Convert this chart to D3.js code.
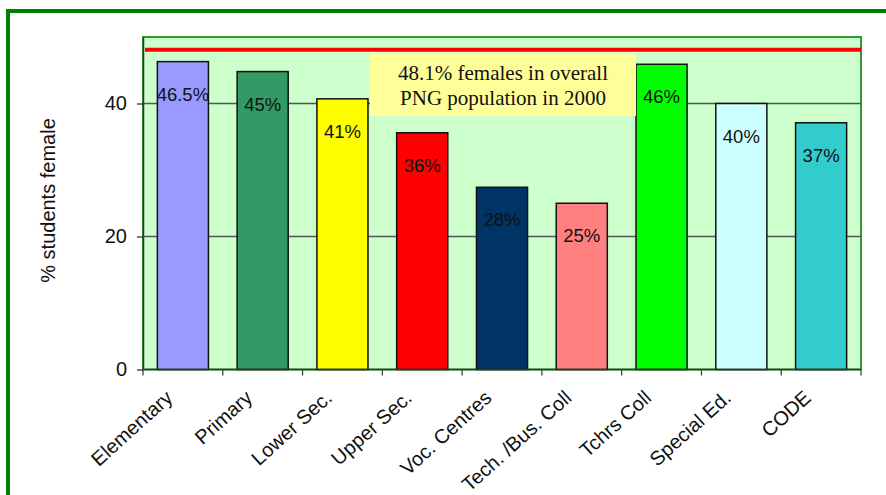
<!DOCTYPE html>
<html><head><meta charset="utf-8">
<script src="https://cdnjs.cloudflare.com/ajax/libs/d3/7.8.5/d3.min.js"></script>
<style>body{margin:0;background:#fff;}svg{display:block;}</style>
</head><body>
<svg id="c" width="886" height="495"></svg>
<script>
const categories = ["Elementary","Primary","Lower Sec.","Upper Sec.","Voc. Centres","Tech. /Bus. Coll","Tchrs Coll","Special Ed.","CODE"];
const values = [46.3, 44.8, 40.7, 35.6, 27.4, 25.0, 45.9, 40.0, 37.1];
const valueLabels = ["46.5%","45%","41%","36%","28%","25%","46%","40%","37%"];
const barColors = ["#9999FF","#339966","#FFFF00","#FF0000","#003366","#FF8080","#00FF00","#CCFFFF","#33CCCC"];
const yTicks = [0, 20, 40];
const referenceValue = 48.1;
const noteLines = ["48.1% females in overall","PNG population in 2000"];
const yTitle = "% students female";

const svg = d3.select("#c");
const L = 143, R = 861, T = 37, B = 369.5;

// outer border
svg.append("rect").attr("x",8).attr("y",11).attr("width",900).attr("height",500)
  .attr("fill","none").attr("stroke","#008000").attr("stroke-width",4);

const x = d3.scaleBand().domain(categories).range([L,R]).paddingInner(0.36).paddingOuter(0.18);
const y = d3.scaleLinear().domain([0,50]).range([B,T]);

// plot background
svg.append("rect").attr("x",L).attr("y",T).attr("width",R-L).attr("height",B-T)
  .attr("fill","#CCFFCC").attr("stroke","#339933").attr("stroke-width",2);

// gridlines
svg.append("g").selectAll("line").data(yTicks.filter(d=>d>0)).join("line")
  .attr("x1",L).attr("x2",R).attr("y1",d=>y(d)).attr("y2",d=>y(d))
  .attr("stroke","#555").attr("stroke-width",1.3);

// reference line
svg.append("line").attr("x1",L+2).attr("x2",R).attr("y1",y(referenceValue)).attr("y2",y(referenceValue))
  .attr("stroke","#FF0000").attr("stroke-width",4);

// bars
svg.append("g").selectAll("rect").data(values).join("rect")
  .attr("x",(d,i)=>x(categories[i])).attr("width",x.bandwidth())
  .attr("y",d=>y(d)).attr("height",d=>B-y(d))
  .attr("fill",(d,i)=>barColors[i]).attr("stroke","#111").attr("stroke-width",1.5);

// value labels
svg.append("g").selectAll("text").data(values).join("text")
  .attr("x",(d,i)=>x(categories[i])+x.bandwidth()/2)
  .attr("y",d=>y(d)+39)
  .attr("text-anchor","middle")
  .attr("font-family","Liberation Sans, Arial, sans-serif").attr("font-size",18.5)
  .attr("fill","#111")
  .text((d,i)=>valueLabels[i]);

// note box
const noteG = svg.append("g");
noteG.append("rect").attr("x",370).attr("y",53).attr("width",266).attr("height",63).attr("fill","#FFFF99");
noteG.selectAll("text").data(noteLines).join("text")
  .attr("x",503).attr("y",(d,i)=>80+i*25)
  .attr("text-anchor","middle")
  .attr("font-family","Liberation Serif, Times New Roman, serif").attr("font-size",21)
  .attr("fill","#111").text(d=>d);

// y axis
const yAxis = d3.axisLeft(y).tickValues(yTicks).tickSize(6).tickPadding(10).tickSizeOuter(0);
const gy = svg.append("g").attr("transform",`translate(${L},0)`).call(yAxis);
gy.select(".domain").attr("stroke","#333").attr("stroke-width",1.5);
gy.selectAll(".tick line").attr("stroke","#333").attr("stroke-width",1.3);
gy.selectAll(".tick text").attr("font-family","Liberation Sans, Arial, sans-serif").attr("font-size",20).attr("fill","#111");

// x axis line and ticks at boundaries
svg.append("line").attr("x1",L).attr("x2",R).attr("y1",B).attr("y2",B).attr("stroke","#333").attr("stroke-width",1.5);
const bounds = d3.range(categories.length+1).map(i=>L + i*x.step());
svg.append("g").selectAll("line").data(bounds).join("line")
  .attr("x1",d=>d).attr("x2",d=>d).attr("y1",B).attr("y2",B+6)
  .attr("stroke","#444").attr("stroke-width",1.3);

// x labels
svg.append("g").selectAll("text").data(categories).join("text")
  .attr("transform",d=>`translate(${x(d)+x.bandwidth()/2-9},${B+30}) rotate(-42)`)
  .attr("text-anchor","end")
  .attr("font-family","Liberation Sans, Arial, sans-serif").attr("font-size",20)
  .attr("fill","#111").text(d=>d);

// y title
svg.append("text").attr("transform",`translate(55,${(118+283)/2}) rotate(-90)`)
  .attr("text-anchor","middle")
  .attr("font-family","Liberation Sans, Arial, sans-serif").attr("font-size",20)
  .attr("fill","#111").text(yTitle);
</script>
</body></html>
